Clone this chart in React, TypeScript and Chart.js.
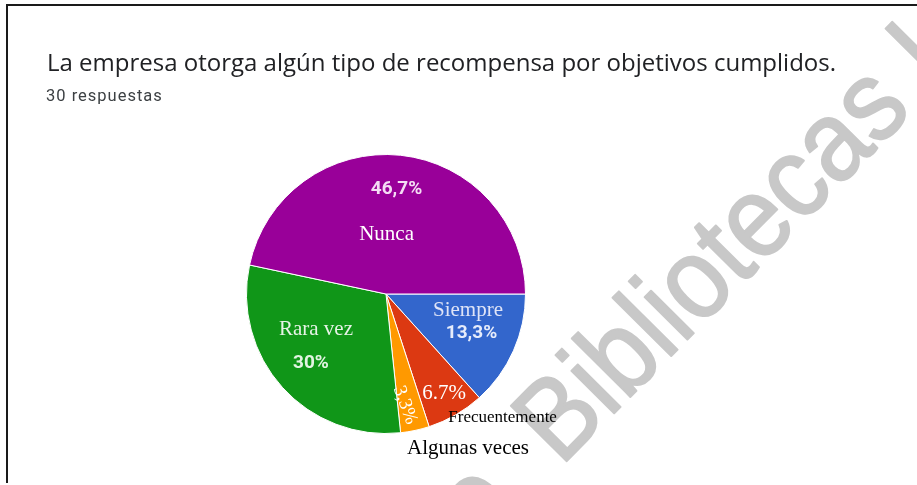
import React, { useEffect, useRef } from "react";
import { Chart, registerables } from "chart.js";

Chart.register(...registerables);

// ---- data ----
const categories = ["Siempre", "Frecuentemente", "Algunas veces", "Rara vez", "Nunca"];
const counts = [4, 2, 1, 9, 14];
const percentLabels = ["13,3%", "6.7%", "3,3%", "30%", "46,7%"];
const sliceColors = ["#3366cc", "#dc3912", "#ff9900", "#109618", "#990099"];
const titleText = "La empresa otorga algún tipo de recompensa por objetivos cumplidos.";
const subtitleText = "30 respuestas";
const watermarkBefore = "de";
const watermarkMain = "Bibliotecas I";

// ---- label styling (offsets in units of the pie radius from its centre) ----
type LabelSpec = {
  text: string;
  dx: number;
  dy: number;
  font: string;
  color: string;
  rotate?: number;
};

const SERIF = '"Liberation Serif", "DejaVu Serif", serif';
const SANS = 'Roboto, "Liberation Sans", sans-serif';

const labelSpecs: LabelSpec[] = [
  { text: percentLabels[4], dx: 0.075, dy: -0.717, font: `bold 19px ${SANS}`, color: "#f4dcf4" },
  { text: categories[4], dx: 0.004, dy: -0.387, font: `21px ${SERIF}`, color: "#ffffff" },
  { text: categories[0], dx: 0.588, dy: 0.158, font: `21px ${SERIF}`, color: "#dfe4f7" },
  { text: percentLabels[0], dx: 0.613, dy: 0.315, font: `bold 19px ${SANS}`, color: "#e6ecfb" },
  { text: "Rara vez", dx: -0.502, dy: 0.294, font: `21px ${SERIF}`, color: "#e6f3e6" },
  { text: percentLabels[3], dx: -0.538, dy: 0.53, font: `bold 19px ${SANS}`, color: "#e2f4e2" },
  { text: percentLabels[1], dx: 0.416, dy: 0.753, font: `21px ${SERIF}`, color: "#ffffff" },
  { text: percentLabels[2], dx: 0.136, dy: 0.796, font: `19px ${SERIF}`, color: "#ffffff", rotate: 70 },
  { text: categories[1], dx: 0.836, dy: 0.915, font: `17px ${SERIF}`, color: "#000000" },
  { text: categories[2], dx: 0.588, dy: 1.15, font: `21px ${SERIF}`, color: "#000000" },
];

const overlayPlugin = {
  id: "overlay",
  afterDraw(chart: any) {
    const ctx: CanvasRenderingContext2D = chart.ctx;
    const meta = chart.getDatasetMeta(0);
    const arc = meta.data[0] as any;
    const cx = arc.x;
    const cy = arc.y;
    const R = arc.outerRadius;

    ctx.save();
    // title + subtitle
    ctx.textAlign = "left";
    ctx.textBaseline = "alphabetic";
    ctx.fillStyle = "#202124";
    ctx.font = '24px "Open Sans", sans-serif';
    ctx.fillText(titleText, 47, 71);
    ctx.fillStyle = "#3c4043";
    ctx.font = `16.5px ${SANS}`;
    (ctx as any).letterSpacing = "1px";
    ctx.fillText(subtitleText, 46, 101);
    (ctx as any).letterSpacing = "0px";

    // watermark (anchored on the centre of the "B")
    const fs = 114;
    ctx.save();
    ctx.translate(556, 414);
    ctx.rotate((-45.2 * Math.PI) / 180);
    ctx.scale(0.91, 1);
    ctx.font = `${fs}px "Liberation Sans", Arial, sans-serif`;
    ctx.fillStyle = "#c8c8c8";
    ctx.strokeStyle = "#c8c8c8";
    ctx.lineWidth = 2;
    ctx.lineJoin = "round";
    ctx.textBaseline = "alphabetic";
    const bx = -0.333 * fs;
    const by = 0.358 * fs;
    ctx.textAlign = "left";
    ctx.fillText(watermarkMain, bx, by);
    ctx.strokeText(watermarkMain, bx, by);
    ctx.textAlign = "right";
    ctx.fillText(watermarkBefore, bx - 0.55 * fs, by);
    ctx.strokeText(watermarkBefore, bx - 0.55 * fs, by);
    ctx.restore();

    // slice labels
    for (const s of labelSpecs) {
      const x = cx + s.dx * R;
      const y = cy + s.dy * R;
      ctx.font = s.font;
      ctx.fillStyle = s.color;
      ctx.textAlign = "center";
      if (s.rotate) {
        ctx.save();
        ctx.translate(x, y);
        ctx.rotate((s.rotate * Math.PI) / 180);
        ctx.textBaseline = "middle";
        ctx.fillText(s.text, 0, 0);
        ctx.restore();
      } else {
        ctx.textBaseline = "alphabetic";
        ctx.fillText(s.text, x, y);
      }
    }
    ctx.restore();
  },
};

export default function App() {
  const canvasRef = useRef<HTMLCanvasElement | null>(null);

  useEffect(() => {
    document.body.style.margin = "0";
    const canvas = canvasRef.current;
    if (!canvas) return;
    const chart = new Chart(canvas, {
      type: "pie",
      data: {
        labels: categories,
        datasets: [
          {
            data: counts,
            backgroundColor: sliceColors,
            borderColor: "#ffffff",
            borderWidth: 1,
          },
        ],
      },
      options: {
        responsive: false,
        maintainAspectRatio: false,
        animation: false,
        rotation: 90,
        layout: { padding: { top: 154, bottom: 51, left: 246, right: 391 } },
        plugins: {
          legend: { display: false },
          tooltip: { enabled: false },
          title: { display: false },
        },
      },
      plugins: [overlayPlugin],
    });
    return () => chart.destroy();
  }, []);

  return (
    <div
      style={{
        position: "fixed",
        left: 0,
        top: 0,
        width: 917,
        height: 485,
        background: "#ffffff",
        overflow: "hidden",
      }}
    >
      <canvas
        ref={canvasRef}
        width={917}
        height={485}
        style={{ position: "absolute", left: 0, top: 0, width: 917, height: 485 }}
      />
      <div
        style={{
          position: "absolute",
          left: 6,
          top: 4,
          width: 940,
          height: 479,
          borderTop: "2px solid #1a1a1a",
          borderLeft: "2px solid #1a1a1a",
          boxSizing: "border-box",
          pointerEvents: "none",
        }}
      />
    </div>
  );
}
